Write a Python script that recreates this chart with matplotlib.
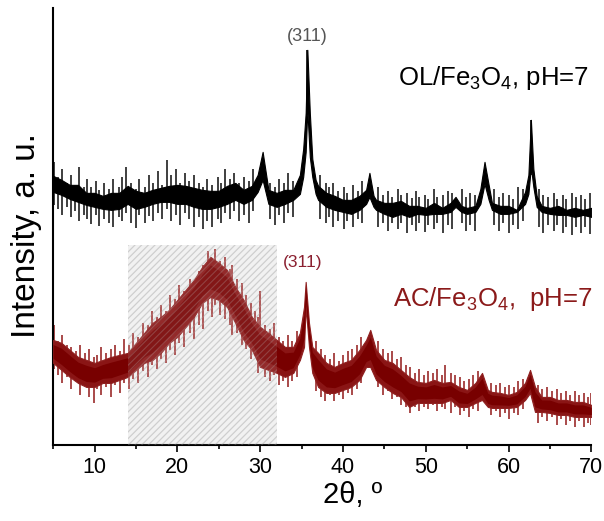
import matplotlib.pyplot as plt
from matplotlib.patches import Rectangle

plt.rcParams['font.family'] = ['Liberation Sans', 'DejaVu Sans']
plt.rcParams['mathtext.fontset'] = 'custom'
plt.rcParams['mathtext.rm'] = 'Liberation Sans'
plt.rcParams['hatch.linewidth'] = 0.8

# OL/Fe3O4 trace: 2theta, upper and lower edge of the dense noise band (a.u.)
ol_x = [5, 6, 7, 8, 9, 10, 11, 12, 13, 14, 15, 16, 17, 18, 19, 20, 21, 22, 23, 24, 25,
        26, 27, 28, 29, 29.7, 30.3, 31, 32, 33, 34, 34.8, 35.2, 35.5, 35.7, 36.0, 36.3,
        36.7, 37, 38, 39, 40, 41, 42, 42.8, 43.2, 43.7, 44, 45, 46, 47, 48, 49, 50, 51,
        52, 53, 53.6, 54.3, 55, 56, 56.6, 57.1, 57.6, 58, 59, 60, 61, 62, 62.4, 62.7,
        63.0, 63.4, 64, 65, 66, 67, 68, 69, 70]
ol_hi = [269, 265, 260, 260, 252, 252, 249, 252, 252, 259, 254, 252, 255, 257, 259, 260,
         259, 257, 255, 254, 254, 259, 262, 255, 259, 270, 293, 255, 252, 255, 255, 270,
         296, 332, 395, 332, 286, 265, 259, 252, 249, 245, 245, 249, 255, 272, 249, 245,
         242, 242, 244, 239, 239, 237, 242, 237, 242, 248, 239, 237, 239, 256, 283, 260,
         242, 239, 239, 235, 253, 270, 325, 276, 249, 239, 237, 239, 235, 237, 235, 237]
ol_lo = [253, 250, 246, 243, 240, 238, 236, 235, 236, 241, 236, 238, 241, 243, 243, 241,
         241, 238, 236, 236, 238, 241, 245, 241, 245, 253, 265, 241, 238, 241, 245, 251,
         268, 293, 335, 288, 268, 251, 245, 238, 235, 233, 231, 235, 241, 248, 238, 235,
         231, 228, 231, 228, 231, 230, 231, 231, 233, 238, 233, 231, 233, 241, 261, 245,
         235, 231, 231, 233, 241, 251, 278, 258, 238, 233, 231, 230, 230, 228, 230, 228]
# single noise spikes of the OL trace: 2theta, low end, high end
ol_spk_x = [5.15, 5.6, 6.05, 6.7, 7.2, 7.65, 8.1, 8.7, 9.1, 9.6, 10.2, 10.55, 11.1, 11.8,
            12.2, 12.9, 13.3, 13.8, 14.35, 15.0, 15.4, 16.1, 16.6, 17.1, 17.7, 18.2, 18.7,
            19.2, 19.8, 20.3, 20.9, 21.4, 22.0, 22.6, 23.1, 23.6, 24.2, 24.9, 25.3, 25.8,
            26.4, 26.9, 27.5, 28.0, 28.6, 29.1, 31.2, 31.8, 32.3, 32.9, 33.4, 34.0, 37.2,
            37.9, 38.3, 38.8, 39.4, 40.1, 40.5, 41.2, 41.8, 42.3, 44.2, 44.8, 45.5, 45.9,
            46.6, 47.0, 47.7, 48.3, 48.8, 49.2, 49.9, 50.3, 51.0, 51.4, 52.1, 52.7, 53.2,
            54.4, 54.9, 55.4, 56.0, 58.2, 58.8, 59.3, 60.1, 60.6, 61.2, 61.7, 63.7, 64.2,
            64.8, 65.5, 65.9, 66.6, 67.0, 67.7, 68.1, 68.8, 69.2, 69.8]
ol_spk_lo = [240, 236, 230, 238, 228, 234, 224, 230, 226, 221, 230, 219, 226, 222, 218,
             228, 224, 232, 222, 217, 230, 222, 229, 224, 232, 226, 236, 224, 230, 220,
             232, 226, 218, 228, 216, 224, 218, 226, 222, 232, 226, 234, 224, 230, 222,
             234, 226, 220, 230, 222, 232, 228, 226, 222, 228, 218, 224, 216, 224, 218,
             226, 222, 218, 222, 214, 222, 216, 222, 212, 220, 214, 222, 213, 220, 216,
             222, 212, 220, 216, 222, 214, 220, 214, 220, 214, 222, 212, 220, 216, 224,
             218, 212, 220, 214, 220, 212, 218, 210, 218, 212, 218, 211]
ol_spk_hi = [283, 268, 276, 262, 270, 259, 278, 258, 266, 258, 264, 255, 262, 256, 266,
             258, 268, 278, 262, 256, 266, 258, 270, 262, 274, 260, 285, 270, 276, 262,
             272, 264, 270, 262, 258, 266, 260, 268, 262, 276, 266, 272, 262, 268, 264,
             276, 262, 258, 266, 262, 272, 264, 270, 262, 258, 262, 254, 258, 252, 260,
             254, 264, 258, 250, 254, 248, 256, 250, 252, 247, 254, 248, 250, 246, 256,
             248, 250, 254, 252, 256, 248, 252, 250, 256, 248, 252, 250, 246, 258, 256,
             256, 250, 248, 252, 246, 250, 246, 252, 248, 250, 246, 252]

# AC/Fe3O4 trace
ac_x = [5, 6, 7, 8, 9, 10, 11, 12, 13, 14, 15, 16, 17, 18, 19, 20, 21, 22, 23, 24, 25,
        26, 27, 28, 29, 30, 31, 32, 33, 34, 34.8, 35.3, 35.5, 35.9, 36.3, 37, 38, 39, 40,
        41, 42, 42.8, 43.3, 44, 45, 46, 47, 48, 49, 50, 51, 52, 53, 54, 55, 56, 56.8,
        57.5, 58, 59, 60, 61, 62, 62.6, 63.2, 64, 65, 66, 67, 68, 69, 70]
ac_hi = [105, 102, 95, 88, 85, 82, 85, 88, 90, 92, 102, 112, 122, 128, 135, 145, 155, 165,
         178, 188, 182, 175, 158, 145, 128, 118, 112, 105, 98, 98, 112, 138, 163, 122, 98,
         92, 82, 78, 82, 85, 95, 105, 115, 95, 85, 82, 75, 68, 63, 62, 65, 62, 63, 58, 55,
         62, 72, 55, 53, 52, 50, 53, 62, 75, 58, 48, 48, 45, 45, 43, 43, 40]
ac_lo = [82, 75, 68, 62, 58, 58, 62, 62, 65, 68, 75, 82, 85, 92, 102, 108, 118, 128, 142,
         148, 145, 138, 122, 105, 95, 78, 75, 72, 68, 72, 85, 98, 138, 98, 72, 58, 52, 52,
         55, 58, 65, 78, 78, 65, 58, 52, 48, 38, 42, 42, 42, 42, 45, 38, 38, 42, 45, 38,
         37, 37, 37, 38, 45, 52, 33, 33, 32, 30, 30, 28, 28, 28]
ac_spk_x = [5.15, 5.6, 6.1, 6.7, 7.2, 7.7, 8.2, 8.8, 9.3, 9.9, 10.3, 10.8, 11.4, 12.0,
            12.5, 13.1, 13.6, 14.2, 14.7, 15.3, 15.8, 16.4, 16.9, 17.5, 18.0, 18.6, 19.1,
            19.7, 20.2, 20.8, 21.5, 22.0, 22.6, 23.1, 23.7, 24.2, 24.6, 25.2, 25.7, 26.3,
            26.6, 27.2, 27.8, 28.3, 28.9, 29.4, 29.8, 30.0, 30.6, 31.2, 31.7, 32.3, 32.8,
            33.4, 33.9, 34.5, 36.7, 37.3, 37.8, 38.4, 38.9, 39.5, 40.0, 40.6, 41.1, 41.7,
            42.2, 44.2, 44.8, 45.4, 45.9, 46.5, 47.0, 47.6, 48.1, 48.7, 49.2, 49.8, 50.3,
            50.9, 51.4, 52.0, 52.3, 53.0, 53.5, 54.1, 54.6, 55.2, 55.7, 56.3, 57.9, 58.5,
            59.0, 59.6, 60.1, 60.7, 61.2, 61.8, 63.6, 64.1, 64.7, 65.2, 65.8, 66.3, 66.9,
            67.4, 68.0, 68.5, 69.1, 69.6, 69.95]
ac_spk_lo = [76, 70, 62, 68, 56, 64, 50, 60, 48, 42, 56, 50, 58, 48, 60, 52, 62, 56, 66,
             62, 74, 68, 80, 76, 86, 82, 95, 90, 102, 98, 112, 106, 120, 116, 134, 128,
             140, 130, 126, 120, 110, 112, 100, 96, 86, 90, 72, 82, 68, 64, 70, 60, 64, 58,
             64, 68, 54, 48, 44, 50, 44, 50, 46, 52, 50, 56, 62, 58, 50, 54, 46, 48, 40, 38,
             32, 38, 34, 38, 36, 40, 34, 38, 36, 32, 38, 30, 34, 28, 36, 34, 30, 34, 28, 32,
             26, 32, 30, 36, 22, 28, 24, 28, 20, 26, 20, 24, 18, 24, 18, 22, 20]
ac_spk_hi = [120, 104, 110, 100, 98, 94, 100, 92, 96, 88, 90, 98, 92, 96, 100, 94, 106,
             100, 112, 108, 122, 120, 134, 128, 140, 134, 150, 146, 160, 154, 166, 158, 174,
             180, 194, 186, 196, 184, 188, 176, 180, 166, 162, 150, 142, 134, 128, 154, 120,
             116, 122, 108, 104, 110, 104, 114, 104, 96, 90, 86, 92, 84, 90, 94, 96, 100,
             108, 104, 96, 92, 94, 86, 88, 80, 78, 72, 76, 70, 74, 72, 76, 70, 80, 72, 70,
             68, 64, 66, 70, 74, 62, 60, 62, 58, 60, 58, 64, 66, 60, 56, 58, 54, 56, 52, 54,
             50, 54, 50, 52, 48, 52]

fig = plt.figure(figsize=(6.04, 5.21), dpi=100)
ax = fig.add_axes([0.088, 0.146, 0.891, 0.839])

# amorphous region, background part
ax.add_patch(Rectangle((14, 0), 18, 200, facecolor='#f3f3f3', edgecolor='#d2d2d2',
                       hatch='/////', lw=0, zorder=1))

# black trace
ax.vlines(ol_spk_x, ol_spk_lo, ol_spk_hi, color='#303030', lw=1.3, zorder=2)
ax.fill_between(ol_x, ol_lo, ol_hi, color='black', lw=0.8, edgecolor='black', zorder=3)
ax.vlines([35.7, 62.7], [330, 270], [395, 325], color='black', lw=1.2, zorder=3)

# red trace
ac_mid_lo = [l + (h - l) * 0.2 for l, h in zip(ac_lo, ac_hi)]
ac_mid_hi = [h - (h - l) * 0.2 for l, h in zip(ac_lo, ac_hi)]
ax.vlines(ac_spk_x, ac_spk_lo, ac_spk_hi, color='#a23c3c', lw=1.3, zorder=2)
ax.fill_between(ac_x, ac_lo, ac_hi, color='#8a1515', lw=0.8, edgecolor='#8f2020', zorder=3)
ax.fill_between(ac_x, ac_mid_lo, ac_mid_hi, color='#780000', lw=0, zorder=3)

# amorphous region, overlay veil
ax.add_patch(Rectangle((14, 0), 18, 200, facecolor=(0.9, 0.9, 0.9, 0.1),
                       edgecolor=(0.75, 0.75, 0.75, 0.25), hatch='/////', lw=0, zorder=4))

ax.text(35.7, 400, '(311)', color='#555555', fontsize=13, ha='center', va='bottom')
ax.text(35.1, 182, '(311)', color='#8b2030', fontsize=12.5, ha='center', va='center')
ax.text(69.7, 367, r'OL/Fe$_3$O$_4$, pH=7', color='black', fontsize=18.5, ha='right', va='center')
ax.text(70.1, 146, r'AC/Fe$_3$O$_4$,  pH=7', color='#8b1a1a', fontsize=18.5, ha='right', va='center')

ax.set_xlim(5, 70)
ax.set_ylim(0, 437)
ax.set_xticks(range(10, 71, 10))
ax.set_xticks(range(5, 71, 5), minor=True)
ax.set_yticks([])
ax.tick_params(axis='x', which='major', direction='out', length=5, width=1.2, labelsize=15.5)
ax.tick_params(axis='x', which='minor', direction='out', length=3, width=1.2)
for side in ['top', 'right']:
    ax.spines[side].set_visible(False)
for side in ['left', 'bottom']:
    ax.spines[side].set_linewidth(1.5)

ax.set_xlabel('2θ, º', fontsize=21, labelpad=2, x=0.556)
ax.set_ylabel('Intensity, a. u.', fontsize=24, labelpad=8, y=0.478)

plt.savefig('out.png', dpi=100)
